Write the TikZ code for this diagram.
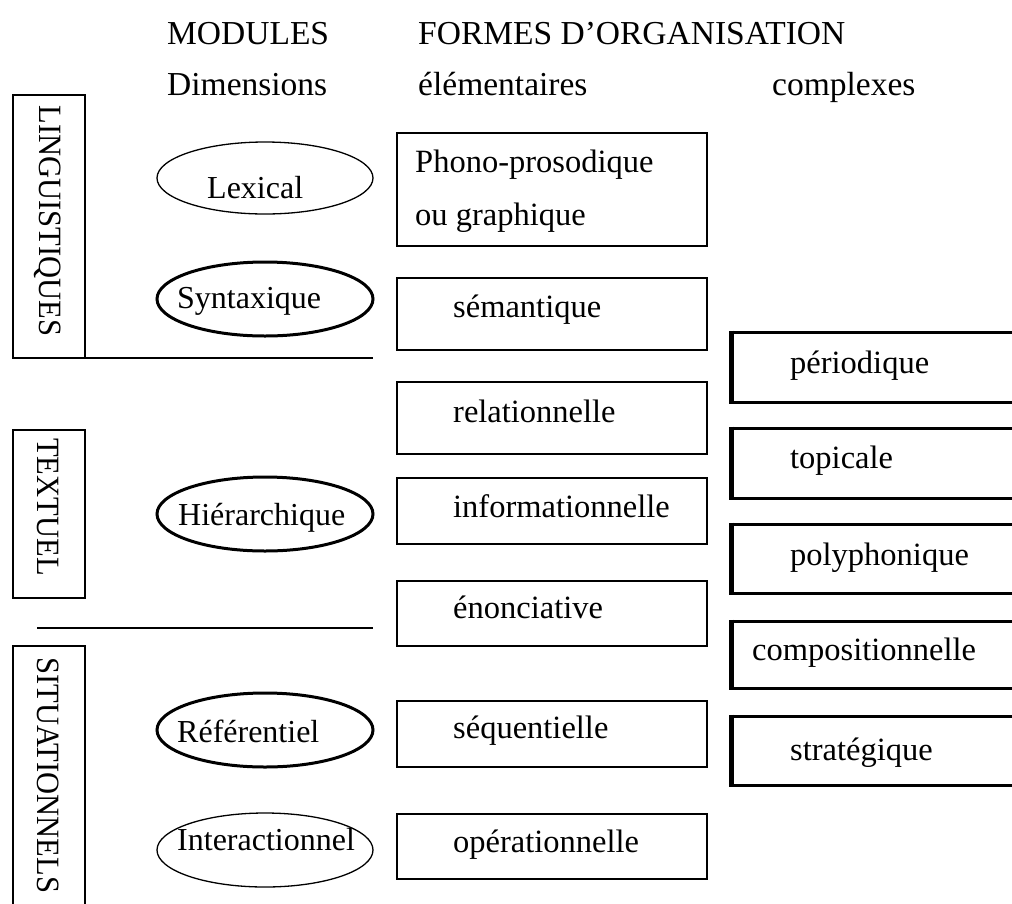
\documentclass[tikz,border=0pt]{standalone}
\usepackage{fontspec}
\setmainfont{Liberation Serif}
\usetikzlibrary{shapes.geometric}
\newcommand\narrowtxt[1]{\scalebox{0.94}[1]{#1}}
\begin{document}
\begin{tikzpicture}[x=1pt,y=-1pt,
  txt/.style={inner sep=0pt,anchor=base west,font=\fontsize{32.5}{32.5}\selectfont},
  etxt/.style={inner sep=0pt,anchor=base west,font=\fontsize{32}{32}\selectfont},
  hdr/.style={inner sep=0pt,anchor=base west,font=\fontsize{33.5}{33.5}\selectfont},
  vlab/.style={inner sep=0pt,rotate=-90,font=\fontsize{32.5}{32.5}\selectfont},
  frame/.style={draw,line width=1.4pt},
  elthin/.style={draw,ellipse,line width=1.3pt,inner sep=0pt},
  elthick/.style={draw,ellipse,line width=3pt,inner sep=0pt},
  cbox/.style={draw,line width=3pt},
  sep/.style={line width=1.3pt}]
\useasboundingbox (0,0) rectangle (1012,903);
\clip (0,0) rectangle (1012,903);

% headers
\node[hdr] (hmod) at (167,44) {MODULES};
\node[hdr] (hform) at (418,44) {FORMES D’ORGANISATION};
\node[hdr] (hdim) at (167,95) {Dimensions};
\node[hdr] (helem) at (418,95) {élémentaires};
\node[hdr] (hcomp) at (772,95) {complexes};

% module boxes
\draw[frame] (13,95) rectangle (85,358);
\node[vlab] (ling) at (48,221) {\narrowtxt{LINGUISTIQUES}};
\draw[frame] (13,430) rectangle (85,598);
\node[vlab] (text) at (48,507) {\narrowtxt{TEXTUEL}};
\draw[frame] (13,646) rectangle (85,960);
\node[vlab,anchor=west] (situ) at (48,657) {\narrowtxt{SITUATIONNELS}};

% separators
\coordinate (s1a) at (37,358); \coordinate (s1b) at (373,358);
\coordinate (s2a) at (37,628); \coordinate (s2b) at (373,628);
\draw[sep] (s1a) -- (s1b);
\draw[sep] (s2a) -- (s2b);

% ellipses
\node[elthin,minimum width=216pt,minimum height=72pt] (elex) at (265,178) {};
\node[etxt] (tlex) at (207,198) {Lexical};
\node[elthick,minimum width=216pt,minimum height=74pt] (esyn) at (265,299) {};
\node[etxt] (tsyn) at (177,308) {Syntaxique};
\node[elthick,minimum width=216pt,minimum height=74pt] (ehie) at (265,514) {};
\node[etxt] (thie) at (178,525) {Hiérarchique};
\node[elthick,minimum width=216pt,minimum height=74pt] (eref) at (265,730) {};
\node[etxt] (tref) at (177,742) {Référentiel};
\node[elthin,minimum width=216pt,minimum height=74pt] (eint) at (265,850) {};
\node[etxt] (tint) at (177,850) {Interactionnel};

% elementary forms
\draw[frame] (397,133) rectangle (707,246);
\node[txt] (phono1) at (415,172) {Phono-prosodique};
\node[txt] (phono2) at (415,225) {ou graphique};
\draw[frame] (397,278) rectangle (707,350);
\node[txt] (sem) at (453,317) {sémantique};
\draw[frame] (397,382) rectangle (707,454);
\node[txt] (rel) at (453,422) {relationnelle};
\draw[frame] (397,478) rectangle (707,544);
\node[txt] (inf) at (453,517) {informationnelle};
\draw[frame] (397,581) rectangle (707,646);
\node[txt] (eno) at (453,618) {énonciative};
\draw[frame] (397,701) rectangle (707,767);
\node[txt] (seq) at (453,738) {séquentielle};
\draw[frame] (397,814) rectangle (707,879);
\node[txt] (ope) at (453,852) {opérationnelle};

% complex forms
\foreach \ya/\yb in {332/402,428/498,524/593,621/688,716/785}{
  \draw[cbox] (1030,\ya) -- (731,\ya) -- (731,\yb) -- (1030,\yb);
  \draw[line width=5pt] (731.5,\ya-1.5) -- (731.5,\yb+1.5);
}
\node[txt] (per) at (790,373) {périodique};
\node[txt] (top) at (790,468) {topicale};
\node[txt] (pol) at (790,565) {polyphonique};
\node[txt] (com) at (752,660) {compositionnelle};
\node[txt] (str) at (790,760) {stratégique};
\end{tikzpicture}
\end{document}
